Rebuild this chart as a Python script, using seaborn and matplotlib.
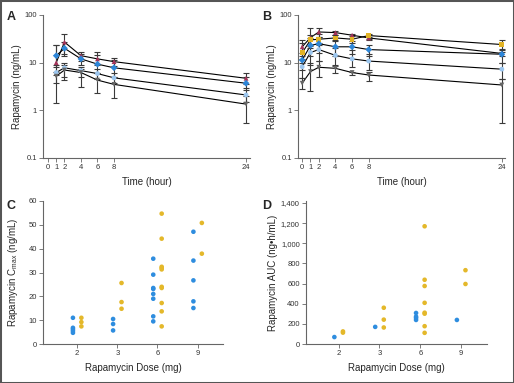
import numpy as np
import pandas as pd
import seaborn as sns
import matplotlib.pyplot as plt
from matplotlib.patches import Rectangle
from matplotlib.ticker import FuncFormatter, NullLocator

# panel A: concentration vs time, four groups (mean, lower, upper)
times_a = [1, 2, 4, 6, 8, 24]
a_red = [10, 27, 14, 12, 10.5, 4.7]
a_red_lo = [5.5, 15, 11, 9, 8.5, 3.6]
a_red_hi = [23, 40, 16.9, 16.9, 12.7, 6.2]
a_blue = [14, 20, 12, 9.3, 7.8, 3.7]
a_blue_lo = [8, 13.9, 9, 6, 5, 2.7]
a_blue_hi = [24, 27, 14.9, 14.6, 11.3, 5.1]
a_lblue = [6.2, 7.8, 6.8, 5.9, 4.8, 2.1]
a_lblue_lo = [3.8, 5.1, 4.9, 4.5, 3.8, 1.5]
a_lblue_hi = [9, 10, 8, 7.2, 6, 2.9]
a_gray = [5.2, 7, 6.2, 4.3, 3.5, 1.35]
a_gray_lo = [1.4, 4.3, 3.1, 2.3, 1.8, 0.54]
a_gray_hi = [6.5, 9, 7.5, 6, 5, 2]

# panel B: concentration vs time, five groups
times_b = [0, 1, 2, 4, 6, 8, 24]
b_red = [21.5, 33.6, 44, 42.7, 37.6, 33, 15.6]
b_red_lo = [14, 20, 35, 38, 33, 30, 14]
b_red_hi = [30, 54, 53, 47, 40, 35, 17]
b_yellow = [16.1, 30, 31, 33, 31, 37, 24]
b_yellow_lo = [10, 22, 24, 28, 26, 32, 18]
b_yellow_hi = [26, 38, 40, 38, 36, 40, 30]
b_blue = [11.3, 23, 25, 21.5, 21.5, 18.8, 15]
b_blue_lo = [7, 14, 16, 14, 15, 14, 10]
b_blue_hi = [16, 33, 35, 30, 28, 24, 19]
b_lblue = [8.2, 16.3, 18.8, 14.2, 12, 10.8, 7.3]
b_lblue_lo = [4.8, 9, 11, 9, 8, 7, 4.5]
b_lblue_hi = [12, 24, 26, 20, 18, 15, 10]
b_gray = [3.7, 6.5, 8, 7.6, 6.2, 5.5, 3.4]
b_gray_lo = [2.8, 2.6, 5.1, 6, 5.4, 4.2, 0.54]
b_gray_hi = [4.8, 10, 11, 8.5, 6.5, 6.5, 4.5]

# panels C and D: per-patient values by dose, two cohorts
doses = ["2", "3", "6", "9"]
cmax_blue = [[11, 6.8, 6.2, 5.5, 4.7], [10.5, 8.4, 5.7],
             [35.8, 29.1, 23.5, 23.1, 21, 19, 11.6, 9.5],
             [47.1, 35, 26.7, 17.9, 15.1]]
cmax_yellow = [[11, 9.2, 7.4], [25.6, 17.6, 14.8],
               [54.7, 44.2, 32.4, 31.9, 31.3, 24, 23.5, 17.2, 13.7, 7.4],
               [50.8, 37.9]]
auc_blue = [[69], [170], [308, 272, 259, 239], [239]]
auc_yellow = [[125, 113], [360, 242, 164],
              [1169, 638, 576, 409, 311, 301, 177, 111],
              [733, 596]]

RED, YEL, BLU, LBL, GRY = "#a3345a", "#e2b325", "#2d86d8", "#9cc6ee", "#666666"
DOT_BLUE, DOT_YEL = "#2e8ddf", "#e4b82a"

sns.set_style("white")
plt.rcParams["font.family"] = ["Liberation Sans", "DejaVu Sans"]
NARROW = ["Liberation Sans Narrow", "Liberation Sans", "DejaVu Sans"]
LBL_SIZE = 7


def style_axis(ax):
    sns.despine(ax=ax)
    for s in ("left", "bottom"):
        ax.spines[s].set_color("#666666")
        ax.spines[s].set_linewidth(0.8)
    ax.tick_params(axis="both", which="major", length=3, width=0.6,
                   color="#666666", labelsize=5.5, labelcolor="#333333",
                   pad=1.5, left=True, bottom=True)


def pk_panel(ax, times, groups):
    rows = []
    for name, (vals, lo, hi, col, mk) in groups.items():
        for t, v in zip(times, vals):
            rows.append({"time": t, "conc": v, "group": name})
    df = pd.DataFrame(rows)
    sns.lineplot(data=df, x="time", y="conc", units="group", estimator=None,
                 color="black", lw=0.8, sort=False, ax=ax, legend=False)
    for name, (vals, lo, hi, col, mk) in groups.items():
        v = np.array(vals)
        err = [v - np.array(lo), np.array(hi) - v]
        ax.errorbar(times, v, yerr=err, fmt="none", ecolor="#3a3a3a",
                    elinewidth=0.8, capsize=2, capthick=0.8, zorder=2)
    pal = {k: g[3] for k, g in groups.items()}
    mks = {k: g[4] for k, g in groups.items()}
    sns.scatterplot(data=df, x="time", y="conc", hue="group", style="group",
                    palette=pal, markers=mks, s=12, linewidth=0, zorder=3,
                    ax=ax, legend=False)
    ax.set_yscale("log")
    ax.set_ylim(0.1, 100)
    ax.set_yticks([0.1, 1, 10, 100])
    ax.set_yticklabels(["0.1", "1", "10", "100"])
    ax.yaxis.set_minor_locator(NullLocator())
    ax.set_xticks([0, 1, 2, 4, 6, 8, 24])
    ax.set_xlabel("Time (hour)", fontsize=LBL_SIZE, family=NARROW, labelpad=4)
    ax.set_ylabel("Rapamycin (ng/mL)", fontsize=LBL_SIZE, family=NARROW,
                  labelpad=1.5)
    style_axis(ax)


def dose_panel(ax, blue, yellow, left):
    rows = []
    for i, d in enumerate(doses):
        for v in blue[i]:
            rows.append({"pos": i - 0.105, "val": v, "cohort": "blue"})
        for v in yellow[i]:
            rows.append({"pos": i + 0.105, "val": v, "cohort": "yellow"})
    df = pd.DataFrame(rows)
    sns.scatterplot(data=df, x="pos", y="val", hue="cohort",
                    palette={"blue": DOT_BLUE, "yellow": DOT_YEL},
                    s=11, linewidth=0, ax=ax, legend=False)
    ax.set_xticks(range(len(doses)))
    ax.set_xticklabels(doses)
    ax.set_xlim(left, 3.63)
    ax.set_xlabel("Rapamycin Dose (mg)", fontsize=LBL_SIZE, family=NARROW,
                  labelpad=4)
    style_axis(ax)


fig = plt.figure(figsize=(5.14, 3.83), dpi=100)
ax_a = fig.add_axes([0.0837, 0.5875, 0.403, 0.3734])
ax_b = fig.add_axes([0.5798, 0.5875, 0.403, 0.3734])
ax_c = fig.add_axes([0.0837, 0.1018, 0.350, 0.3734])
ax_d = fig.add_axes([0.5953, 0.1018, 0.352, 0.3734])

pk_panel(ax_a, times_a, {
    "r": (a_red, a_red_lo, a_red_hi, RED, "^"),
    "b": (a_blue, a_blue_lo, a_blue_hi, BLU, "D"),
    "l": (a_lblue, a_lblue_lo, a_lblue_hi, LBL, "o"),
    "g": (a_gray, a_gray_lo, a_gray_hi, GRY, "v"),
})
ax_a.set_xlim(-0.6, 24.5)

pk_panel(ax_b, times_b, {
    "r": (b_red, b_red_lo, b_red_hi, RED, "^"),
    "y": (b_yellow, b_yellow_lo, b_yellow_hi, YEL, "s"),
    "b": (b_blue, b_blue_lo, b_blue_hi, BLU, "D"),
    "l": (b_lblue, b_lblue_lo, b_lblue_hi, LBL, "o"),
    "g": (b_gray, b_gray_lo, b_gray_hi, GRY, "v"),
})
ax_b.set_xlim(-0.5, 24.4)

dose_panel(ax_c, cmax_blue, cmax_yellow, -0.85)
ax_c.set_ylim(0, 60)
ax_c.set_yticks(range(0, 61, 10))
ax_c.set_ylabel(r"Rapamycin C$_{\mathregular{max}}$ (ng/mL)", fontsize=LBL_SIZE,
                family=NARROW, labelpad=6)

dose_panel(ax_d, auc_blue, auc_yellow, -0.8)
ax_d.set_ylim(0, 1420)
ax_d.set_yticks(range(0, 1401, 200))
ax_d.yaxis.set_major_formatter(FuncFormatter(lambda v, p: f"{int(v):,}"))
ax_d.set_ylabel("Rapamycin AUC (ng\u2022h/mL)", fontsize=LBL_SIZE,
                family=NARROW, labelpad=2)

for letter, (x, y) in {"A": (0.013, 0.97), "B": (0.509, 0.97),
                       "C": (0.013, 0.478), "D": (0.509, 0.478)}.items():
    fig.text(x, y, letter, fontsize=9, fontweight="bold", va="top",
             ha="left", family="Liberation Sans")

fig.add_artist(Rectangle((0, 0), 1, 1, transform=fig.transFigure,
                         fill=False, ec="#555555", lw=2.2))

fig.savefig("out.png", dpi=100)
